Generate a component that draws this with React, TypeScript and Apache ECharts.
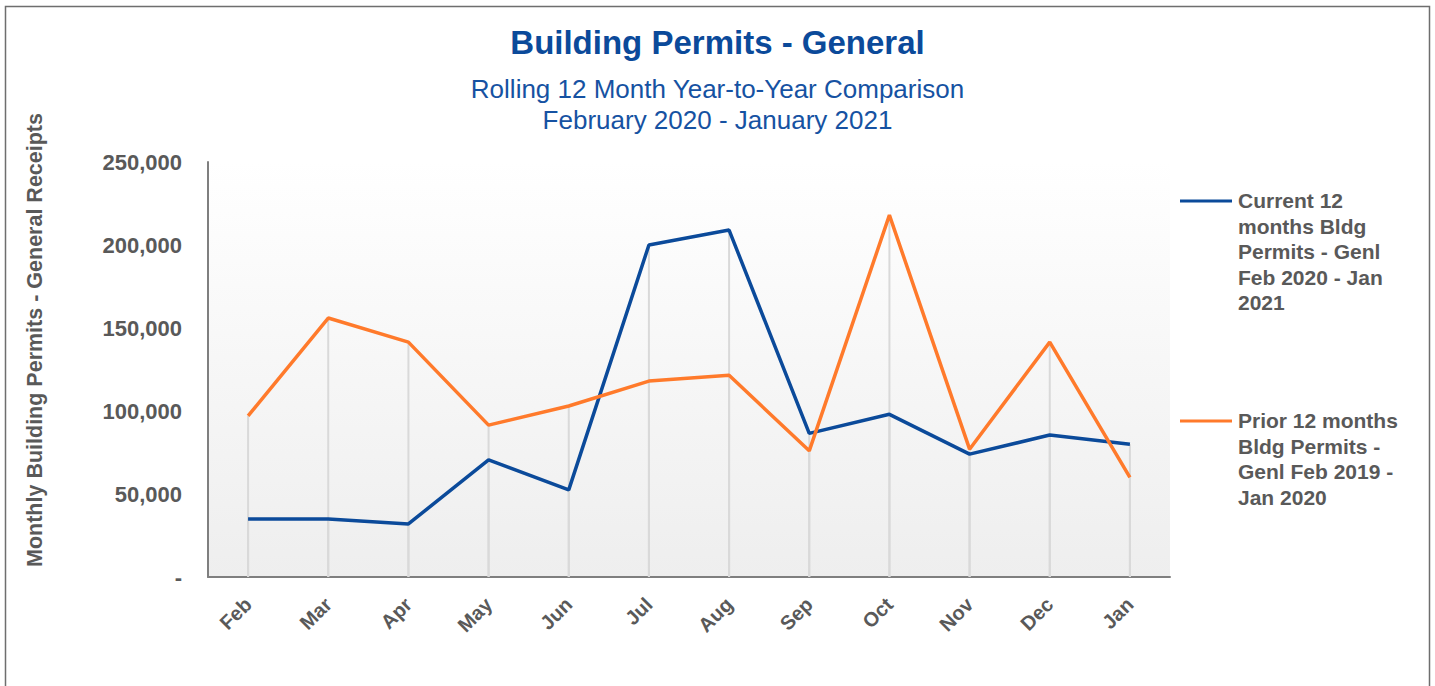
import React, { useEffect, useRef } from "react";
import * as echarts from "echarts";

const months = ["Feb", "Mar", "Apr", "May", "Jun", "Jul", "Aug", "Sep", "Oct", "Nov", "Dec", "Jan"];
const currentValues = [35000, 35000, 32000, 70500, 52500, 200000, 209000, 86500, 98000, 74000, 85500, 80000];
const priorValues = [97000, 156000, 141500, 91500, 103000, 118000, 121500, 76000, 218000, 77000, 141500, 60000];
const currentName = "Current 12 months Bldg Permits - Genl Feb 2020 - Jan 2021";
const priorName = "Prior 12 months Bldg Permits - Genl Feb 2019 - Jan 2020";
const currentLegendLines = ["Current 12", "months Bldg", "Permits - Genl", "Feb 2020 - Jan", "2021"];
const priorLegendLines = ["Prior 12 months", "Bldg Permits -", "Genl Feb 2019 -", "Jan 2020"];
const yTicks = { min: 0, max: 250000, interval: 50000 };

const BLUE = "#0B4A9A";
const ORANGE = "#FF7A2B";
const GREY_TEXT = "#595959";
const FONT = "'Liberation Sans', Arial, Helvetica, sans-serif";

export default function App() {
  const ref = useRef<HTMLDivElement>(null);

  useEffect(() => {
    document.body.style.margin = "0";
    if (!ref.current) return;
    const chart = echarts.init(ref.current, null, { renderer: "svg" });
    const option: any = {
      animation: false,
      textStyle: { fontFamily: FONT },
      title: {
        text: "Building Permits - General",
        subtext: "Rolling 12 Month Year-to-Year Comparison\nFebruary 2020 - January 2021",
        left: "center",
        top: 24,
        padding: 0,
        itemGap: 13,
        textStyle: { color: BLUE, fontSize: 33, fontWeight: "bold", lineHeight: 36, fontFamily: FONT },
        subtextStyle: { color: "#1652A2", fontSize: 26, lineHeight: 31, fontFamily: FONT },
      },
      grid: {
        left: 208,
        top: 162,
        width: 962,
        height: 415,
        show: true,
        borderWidth: 0,
        backgroundColor: new echarts.graphic.LinearGradient(0, 0, 0, 1, [
          { offset: 0, color: "#ffffff" },
          { offset: 1, color: "#eeeeee" },
        ]),
      },
      xAxis: {
        type: "category",
        data: months,
        boundaryGap: true,
        axisLine: { show: true, lineStyle: { color: "#7f7f7f", width: 2 } },
        axisTick: { show: false },
        splitLine: { show: false },
        axisLabel: {
          rotate: 45,
          margin: 24,
          color: GREY_TEXT,
          fontSize: 20,
          fontWeight: "bold",
          fontFamily: FONT,
        },
      },
      yAxis: {
        type: "value",
        min: yTicks.min,
        max: yTicks.max,
        interval: yTicks.interval,
        axisLine: { show: true, lineStyle: { color: "#7f7f7f", width: 2 } },
        axisTick: { show: false },
        splitLine: { show: false },
        axisLabel: {
          margin: 26,
          color: GREY_TEXT,
          fontSize: 22,
          fontWeight: "bold",
          fontFamily: FONT,
          formatter: (v: number) => (v === 0 ? "-" : v.toLocaleString("en-US")),
        },
      },
      series: [
        {
          type: "bar",
          name: "drop-current",
          data: currentValues,
          barWidth: 2,
          barGap: "-100%",
          itemStyle: { color: "#d9d9d9" },
          silent: true,
          z: 1,
        },
        {
          type: "bar",
          name: "drop-prior",
          data: priorValues,
          barWidth: 2,
          barGap: "-100%",
          itemStyle: { color: "#d9d9d9" },
          silent: true,
          z: 1,
        },
        {
          type: "line",
          name: currentName,
          data: currentValues,
          showSymbol: false,
          symbol: "none",
          lineStyle: { color: BLUE, width: 3.5 },
          itemStyle: { color: BLUE },
          z: 3,
        },
        {
          type: "line",
          name: priorName,
          data: priorValues,
          showSymbol: false,
          symbol: "none",
          lineStyle: { color: ORANGE, width: 3.5 },
          itemStyle: { color: ORANGE },
          z: 4,
        },
      ],
      graphic: [
        {
          type: "rect",
          shape: { x: 5.5, y: 6.5, width: 1424, height: 700 },
          style: { fill: "none", stroke: "#6e6e6e", lineWidth: 1.5 },
          silent: true,
          z: -10,
        },
        {
          type: "text",
          x: 35,
          y: 340,
          rotation: Math.PI / 2,
          style: {
            text: "Monthly Building Permits - General Receipts",
            fill: GREY_TEXT,
            font: `bold 21.5px ${FONT}`,
            textAlign: "center",
            textVerticalAlign: "middle",
          },
        },
        {
          type: "line",
          shape: { x1: 1180, y1: 201, x2: 1232, y2: 201 },
          style: { stroke: BLUE, lineWidth: 3 },
        },
        {
          type: "text",
          x: 1238,
          y: 188,
          style: {
            text: currentLegendLines.join("\n"),
            fill: GREY_TEXT,
            font: `bold 21px ${FONT}`,
            lineHeight: 25.5,
            textVerticalAlign: "top",
          },
        },
        {
          type: "line",
          shape: { x1: 1180, y1: 421, x2: 1232, y2: 421 },
          style: { stroke: ORANGE, lineWidth: 3 },
        },
        {
          type: "text",
          x: 1238,
          y: 408,
          style: {
            text: priorLegendLines.join("\n"),
            fill: GREY_TEXT,
            font: `bold 21px ${FONT}`,
            lineHeight: 25.5,
            textVerticalAlign: "top",
          },
        },
      ],
    };
    chart.setOption(option);
    return () => chart.dispose();
  }, []);

  return <div ref={ref} style={{ width: 1435, height: 686 }} />;
}
